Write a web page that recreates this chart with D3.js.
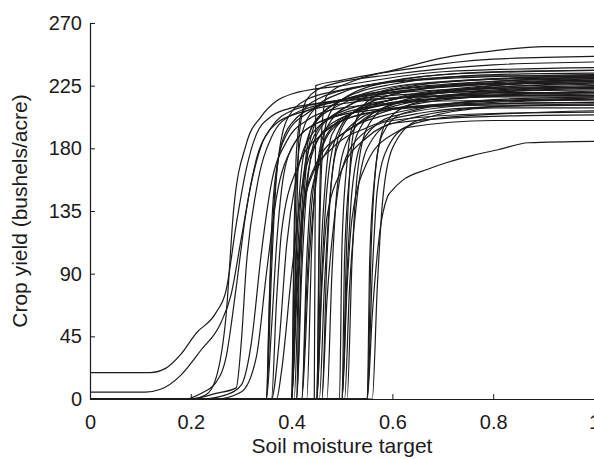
<!DOCTYPE html>
<html>
<head>
<meta charset="utf-8">
<script src="https://cdn.jsdelivr.net/npm/d3@7"></script>
<style>
  body { margin: 0; background: #fff; }
  svg { display: block; font-family: "Liberation Sans", Arial, Helvetica, sans-serif; }
</style>
</head>
<body>
<div id="chart"></div>
<script>
// tick labels
const xTicks = [0, 0.2, 0.4, 0.6, 0.8, 1];
const yTicks = [0, 45, 90, 135, 180, 225, 270];

// yield curves, [moisture target, yield] pairs
const earlyCurves = [
  [[0,19],[0.12,19],[0.15,22],[0.18,32],[0.21,47],[0.25,62],[0.27,78],[0.29,125],[0.31,165],[0.33,190],[0.36,203],[0.4,209],[0.5,214],[0.6,216],[0.8,218],[1,218]],
  [[0,5],[0.11,5],[0.14,7],[0.18,17],[0.22,35],[0.26,55],[0.28,75],[0.3,115],[0.32,155],[0.34,182],[0.37,198],[0.42,206],[0.5,212],[0.7,218],[1,220]],
  [[0,0],[0.19,0],[0.22,4],[0.25,12],[0.27,30],[0.29,80],[0.31,135],[0.33,172],[0.36,195],[0.4,207],[0.5,215],[0.7,222],[1,224]],
  [[0,0],[0.2,0],[0.25,4],[0.29,8],[0.3,40],[0.31,95],[0.33,150],[0.36,188],[0.4,204],[0.5,214],[0.7,220],[1,222]],
  [[0,0],[0.22,0],[0.27,3],[0.3,10],[0.32,40],[0.34,105],[0.36,155],[0.39,185],[0.43,200],[0.5,209],[0.7,214],[1,215]],
  [[0,0],[0.25,0],[0.3,5],[0.33,30],[0.35,90],[0.37,145],[0.4,180],[0.45,198],[0.55,207],[0.8,212],[1,213]],
  [[0,0],[0.2,0],[0.23,3],[0.25,15],[0.27,60],[0.285,136],[0.31,183],[0.34,203],[0.37,214],[0.4,219],[0.5,225],[0.7,235],[1,238]]
];

const step35 = [
  [[0,0],[0.35,0],[0.355,60],[0.36,120],[0.37,165],[0.39,190],[0.43,205],[0.5,215],[0.7,225],[1,228]],
  [[0,0],[0.35,0],[0.357,80],[0.365,140],[0.375,175],[0.4,198],[0.45,210],[0.55,218],[0.8,226],[1,229]],
  [[0,0],[0.35,0],[0.36,50],[0.37,110],[0.38,150],[0.4,180],[0.45,198],[0.55,207],[0.8,213],[1,215]],
  [[0,0],[0.35,0],[0.36,90],[0.37,160],[0.39,200],[0.43,215],[0.5,222],[0.7,230],[1,233]],
  [[0,0],[0.36,0],[0.375,40],[0.39,110],[0.41,160],[0.44,190],[0.5,205],[0.6,212],[0.8,217],[1,217]],
  [[0,0],[0.37,0],[0.38,20],[0.4,90],[0.42,150],[0.45,185],[0.5,200],[0.6,208],[0.8,211],[1,211]],
  [[0,0],[0.36,0],[0.37,70],[0.38,120],[0.41,165],[0.46,190],[0.55,205],[0.8,214],[1,216]]
];

const step40 = [
  [[0,0],[0.4,0],[0.405,100],[0.41,160],[0.42,190],[0.45,210],[0.5,220],[0.6,228],[0.8,232],[1,232]],
  [[0,0],[0.4,0],[0.407,80],[0.415,145],[0.43,185],[0.46,205],[0.55,220],[0.7,228],[1,231]],
  [[0,0],[0.4,0],[0.41,90],[0.42,150],[0.44,185],[0.48,203],[0.6,215],[0.8,222],[1,224]],
  [[0,0],[0.4,0],[0.405,120],[0.41,180],[0.42,205],[0.45,215],[0.55,225],[0.7,233],[1,236]],
  [[0,0],[0.4,0],[0.41,70],[0.425,140],[0.44,175],[0.48,198],[0.6,212],[0.8,218],[1,220]],
  [[0,0],[0.405,0],[0.415,100],[0.425,160],[0.44,195],[0.5,212],[0.6,222],[0.8,228],[1,230]],
  [[0,0],[0.41,0],[0.42,90],[0.43,150],[0.45,190],[0.5,208],[0.6,220],[0.8,226],[1,227]],
  [[0,0],[0.41,0],[0.42,110],[0.43,170],[0.45,200],[0.5,215],[0.6,226],[0.8,233],[1,234]],
  [[0,0],[0.42,0],[0.43,80],[0.44,140],[0.46,180],[0.5,200],[0.6,215],[0.8,223],[1,225]],
  [[0,0],[0.42,0],[0.435,100],[0.45,160],[0.47,190],[0.52,205],[0.65,215],[1,219]],
  [[0,0],[0.4,0],[0.41,130],[0.415,190],[0.43,215],[0.47,225],[0.6,233],[0.8,240],[1,242]],
  [[0,0],[0.4,0],[0.41,80],[0.42,130],[0.44,160],[0.48,180],[0.55,195],[0.65,205],[0.8,210],[1,211]],
  [[0,0],[0.41,0],[0.415,90],[0.425,140],[0.45,170],[0.5,190],[0.6,205],[0.8,214],[1,215]],
  [[0,0],[0.42,0],[0.43,100],[0.44,150],[0.47,178],[0.52,195],[0.6,208],[0.8,218],[1,221]],
  [[0,0],[0.43,0],[0.44,110],[0.45,165],[0.47,195],[0.52,212],[0.65,226],[1,232]]
];

const step45 = [
  [[0,0],[0.445,0],[0.448,225],[0.5,229],[0.6,236],[0.7,245],[0.8,250],[0.9,253],[1,253]],
  [[0,0],[0.45,0],[0.455,110],[0.46,170],[0.47,200],[0.5,215],[0.6,228],[0.8,235],[1,236]],
  [[0,0],[0.45,0],[0.46,90],[0.47,150],[0.49,190],[0.53,208],[0.65,222],[0.85,228],[1,229]],
  [[0,0],[0.45,0],[0.458,100],[0.468,160],[0.48,190],[0.52,205],[0.6,215],[0.8,224],[1,226]],
  [[0,0],[0.455,0],[0.465,80],[0.475,140],[0.49,180],[0.53,200],[0.6,210],[0.8,220],[1,223]],
  [[0,0],[0.46,0],[0.47,100],[0.48,160],[0.5,195],[0.55,212],[0.7,225],[1,231]],
  [[0,0],[0.46,0],[0.47,70],[0.485,130],[0.5,165],[0.54,190],[0.6,200],[0.8,205],[1,206]],
  [[0,0],[0.47,0],[0.48,90],[0.49,150],[0.51,185],[0.56,205],[0.7,220],[1,227]],
  [[0,0],[0.45,0],[0.455,130],[0.46,195],[0.47,218],[0.52,228],[0.65,238],[0.8,244],[1,246]],
  [[0,0],[0.45,0],[0.46,80],[0.47,130],[0.5,165],[0.55,188],[0.62,200],[0.8,210],[1,212]]
];

const step50 = [
  [[0,0],[0.495,0],[0.5,110],[0.51,170],[0.52,195],[0.56,210],[0.7,222],[1,228]],
  [[0,0],[0.5,0],[0.505,100],[0.515,160],[0.53,190],[0.57,207],[0.7,218],[1,224]],
  [[0,0],[0.5,0],[0.51,90],[0.52,150],[0.54,185],[0.6,203],[0.8,212],[1,213]],
  [[0,0],[0.5,0],[0.51,120],[0.52,185],[0.54,210],[0.6,222],[0.8,230],[1,232]],
  [[0,0],[0.505,0],[0.515,80],[0.53,145],[0.55,180],[0.6,198],[0.8,203],[1,204]],
  [[0,0],[0.51,0],[0.52,100],[0.53,160],[0.55,195],[0.6,212],[0.8,225],[1,230]],
  [[0,0],[0.5,0],[0.51,80],[0.52,130],[0.55,170],[0.6,190],[0.7,202],[1,207]]
];

const step55 = [
  [[0,0],[0.55,0],[0.56,60],[0.575,120],[0.59,145],[0.6,150],[0.62,157],[0.67,165],[0.71,170],[0.76,175],[0.81,179],[0.87,184],[1,185]],
  [[0,0],[0.55,0],[0.555,100],[0.565,160],[0.58,190],[0.62,205],[0.8,215],[1,217]],
  [[0,0],[0.55,0],[0.56,90],[0.57,150],[0.59,180],[0.63,195],[0.8,200],[1,200]],
  [[0,0],[0.55,0],[0.558,110],[0.57,175],[0.59,200],[0.65,213],[0.8,220],[1,220]],
  [[0,0],[0.56,0],[0.57,80],[0.58,140],[0.6,180],[0.65,200],[0.8,209],[1,209]]
];

const curves = [...earlyCurves, ...step35, ...step40, ...step45, ...step50, ...step55];

const width = 594;
const height = 459;
const margin = { left: 90, right: 0, top: 23, bottom: 60 };

const svg = d3.select("#chart")
  .append("svg")
  .attr("width", width)
  .attr("height", height);

const x = d3.scaleLinear()
  .domain([0, 1])
  .range([margin.left, width - margin.right]);

const y = d3.scaleLinear()
  .domain([0, 270])
  .range([height - margin.bottom, margin.top]);

const line = d3.line()
  .x(d => x(d[0]))
  .y(d => y(d[1]))
  .curve(d3.curveMonotoneX);

// curves
svg.append("g")
  .selectAll("path")
  .data(curves)
  .enter().append("path")
  .attr("d", line)
  .attr("fill", "none")
  .attr("stroke", "#1c1a1b")
  .attr("stroke-width", 1.2);

// x axis, ticks pointing inward like matlab
const xAxis = svg.append("g")
  .attr("transform", `translate(0,${y(0)})`)
  .call(d3.axisBottom(x)
    .tickValues(xTicks)
    .tickFormat(d3.format("~g"))
    .tickSizeInner(-5)
    .tickSizeOuter(0)
    .tickPadding(16));

// y axis
const yAxis = svg.append("g")
  .attr("transform", `translate(${x(0)},0)`)
  .call(d3.axisLeft(y)
    .tickValues(yTicks)
    .tickSizeInner(-5)
    .tickSizeOuter(0)
    .tickPadding(8));

[xAxis, yAxis].forEach(g => {
  g.select(".domain").attr("stroke", "#1c1a1b").attr("stroke-width", 1.2);
  g.selectAll(".tick line").attr("stroke", "#1c1a1b");
  g.selectAll(".tick text")
    .attr("fill", "#1c1a1b")
    .style("font-size", "20px");
});

// axis labels
svg.append("text")
  .attr("x", (x(0) + x(1)) / 2)
  .attr("y", 453)
  .attr("text-anchor", "middle")
  .attr("fill", "#1c1a1b")
  .style("font-size", "21px")
  .text("Soil moisture target");

svg.append("text")
  .attr("transform", `translate(27,${(y(0) + y(270)) / 2}) rotate(-90)`)
  .attr("text-anchor", "middle")
  .attr("fill", "#1c1a1b")
  .style("font-size", "21px")
  .text("Crop yield (bushels/acre)");
</script>
</body>
</html>
